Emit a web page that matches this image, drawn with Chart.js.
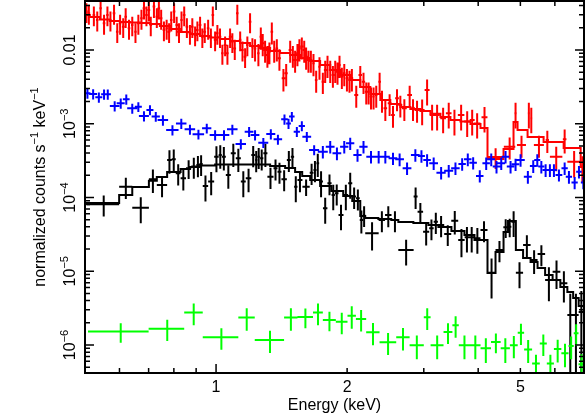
<!DOCTYPE html>
<html>
<head>
<meta charset="utf-8">
<script src="https://cdn.jsdelivr.net/npm/chart.js@4.4.1/dist/chart.umd.min.js"></script>
<style>
  html, body { margin: 0; padding: 0; background: #fff; }
</style>
</head>
<body>
<canvas id="spectrum" width="587" height="415"></canvas>
<script>
// axis ranges and labels
const xRange = [0.5, 7.0];
const yRange = [4.17e-7, 0.0461];
const xTicks = [1, 2, 5];
const xTickText = ['1', '2', '5'];
const yTicks = [1e-6, 1e-5, 1e-4, 1e-3, 1e-2];
const yTickText = ['10^\u22126', '10^\u22125', '10^\u22124', '10^\u22123', '0.01'];
const xTitle = 'Energy (keV)';
const yTitle = 'normalized counts s^\u22121 keV^\u22121';

// black spectrum: bin centre (keV), half width, value, error
const blackE = [0.552, 0.6205, 0.6715, 0.716, 0.7515, 0.7815, 0.7995, 0.8185, 0.841, 0.865, 0.889, 0.9085, 0.924, 0.9455, 0.9745, 1.002, 1.0225, 1.042, 1.067, 1.0955, 1.125, 1.155, 1.1875, 1.217, 1.2365, 1.253, 1.273, 1.298, 1.3335, 1.3695, 1.3985, 1.4335, 1.4695, 1.498, 1.5245, 1.5585, 1.61, 1.6575, 1.687, 1.7125, 1.7425, 1.781, 1.822, 1.8585, 1.893, 1.9365, 1.9865, 2.033, 2.0755, 2.117, 2.1565, 2.188, 2.282, 2.4035, 2.4865, 2.5755, 2.7325, 2.873, 2.946, 3.038, 3.124, 3.197, 3.2875, 3.4055, 3.534, 3.6615, 3.769, 3.865, 3.9825, 4.1255, 4.293, 4.4765, 4.6265, 4.7255, 4.8245, 4.977, 5.1745, 5.3765, 5.5875, 5.814, 6.053, 6.2935, 6.51, 6.7075, 6.9025];
const blackDE = [0.047, 0.0215, 0.0295, 0.015, 0.0205, 0.0095, 0.0085, 0.0105, 0.012, 0.012, 0.012, 0.0075, 0.008, 0.0135, 0.0155, 0.012, 0.0085, 0.011, 0.014, 0.0145, 0.015, 0.015, 0.0175, 0.012, 0.0075, 0.009, 0.011, 0.014, 0.0215, 0.0145, 0.0145, 0.0205, 0.0155, 0.013, 0.0135, 0.0205, 0.031, 0.0165, 0.013, 0.0125, 0.0175, 0.021, 0.02, 0.0165, 0.018, 0.0255, 0.0245, 0.022, 0.0205, 0.021, 0.0185, 0.013, 0.081, 0.0405, 0.0425, 0.0465, 0.1105, 0.03, 0.043, 0.049, 0.037, 0.036, 0.0545, 0.0635, 0.065, 0.0625, 0.045, 0.051, 0.0665, 0.0765, 0.091, 0.0925, 0.0575, 0.0415, 0.0575, 0.095, 0.1025, 0.0995, 0.1115, 0.115, 0.124, 0.1165, 0.10, 0.0975, 0.0975];
const blackY = [8.09e-5, 1.40e-4, 7.27e-5, 1.77e-4, 1.48e-4, 3.23e-4, 3.30e-4, 2.13e-4, 1.82e-4, 2.49e-4, 2.62e-4, 2.76e-4, 2.85e-4, 1.43e-4, 1.64e-4, 3.57e-4, 3.77e-4, 3.57e-4, 2.02e-4, 3.97e-4, 3.40e-4, 1.64e-4, 1.82e-4, 3.77e-4, 3.23e-4, 3.57e-4, 3.40e-4, 3.97e-4, 1.91e-4, 2.49e-4, 2.24e-4, 1.77e-4, 3.23e-4, 3.57e-4, 1.40e-4, 1.73e-4, 1.40e-4, 2.17e-4, 2.36e-4, 2.91e-4, 1.64e-4, 7.14e-5, 1.56e-4, 1.08e-4, 1.14e-4, 5.79e-5, 1.08e-4, 1.56e-4, 1.03e-4, 9.75e-5, 4.95e-5, 5.79e-5, 3.27e-5, 4.95e-5, 5.79e-5, 4.95e-5, 1.94e-5, 1.03e-4, 6.42e-5, 3.44e-5, 3.82e-5, 4.70e-5, 4.24e-5, 3.20e-5, 4.85e-5, 2.65e-5, 2.89e-5, 2.89e-5, 2.80e-5, 3.62e-5, 9.56e-6, 1.94e-5, 3.94e-5, 4.02e-5, 4.70e-5, 9.56e-6, 2.27e-5, 1.42e-5, 1.71e-5, 7.61e-6, 9.86e-6, 6.86e-6, 2.55e-6, 2.55e-6, 2.80e-6];
const blackDY = [2.57e-5, 4.45e-5, 2.79e-5, 6.2e-5, 4.7e-5, 1.13e-4, 1.16e-4, 6.8e-5, 5.8e-5, 7.1e-5, 8.3e-5, 8.8e-5, 9.0e-5, 5.5e-5, 5.7e-5, 1.37e-4, 1.32e-4, 1.25e-4, 7.1e-5, 1.39e-4, 1.19e-4, 6.3e-5, 6.4e-5, 1.2e-4, 1.03e-4, 1.13e-4, 1.08e-4, 1.39e-4, 6.1e-5, 7.9e-5, 7.1e-5, 5.6e-5, 1.02e-4, 1.13e-4, 5.4e-5, 5.5e-5, 3.5e-5, 6.9e-5, 7.5e-5, 1.02e-4, 6.3e-5, 2.74e-5, 4.9e-5, 4.1e-5, 3.6e-5, 2.2e-5, 4.1e-5, 6.0e-5, 3.3e-5, 3.1e-5, 1.7e-5, 1.8e-5, 1.36e-5, 1.57e-5, 1.84e-5, 1.57e-5, 7.4e-6, 3.3e-5, 2.0e-5, 1.2e-5, 1.2e-5, 1.5e-5, 1.35e-5, 1.0e-5, 1.7e-5, 1.1e-5, 1.1e-5, 1.1e-5, 1.07e-5, 1.15e-5, 5.3e-6, 6.2e-6, 1.12e-5, 1.14e-5, 1.8e-5, 3.7e-6, 8.0e-6, 5.0e-6, 5.4e-6, 3.7e-6, 4.1e-6, 3.1e-6, 2.4e-6, 2.4e-6, 2.6e-6];
// black model, bin edges and value per bin
const blackModelEdges = [0.500, 0.599, 0.642, 0.701, 0.731, 0.772, 0.829, 0.871, 0.919, 0.995, 1.136, 1.331, 1.441, 1.519, 1.577, 1.645, 1.734, 1.839, 1.959, 2.055, 2.144, 2.201, 2.359, 2.526, 2.622, 2.839, 3.074, 3.241, 3.472, 3.720, 3.922, 4.202, 4.384, 4.574, 4.684, 4.882, 5.072, 5.277, 5.476, 5.699, 5.929, 6.177, 6.410, 6.610, 6.805, 7.00];
const blackModel = [8.42e-5, 1.08e-4, 1.39e-4, 1.68e-4, 1.90e-4, 2.22e-4, 2.43e-4, 2.59e-4, 2.72e-4, 2.80e-4, 2.80e-4, 2.68e-4, 2.51e-4, 2.22e-4, 1.96e-4, 1.73e-4, 1.43e-4, 1.22e-4, 1.05e-4, 8.97e-5, 5.61e-5, 5.27e-5, 5.11e-5, 4.95e-5, 4.65e-5, 4.51e-5, 4.24e-5, 3.98e-5, 3.51e-5, 3.10e-5, 2.65e-5, 9.46e-6, 1.82e-5, 3.40e-5, 4.80e-5, 1.94e-5, 1.51e-5, 1.33e-5, 1.11e-5, 8.89e-6, 7.60e-6, 6.11e-6, 5.22e-6, 4.33e-6, 3.37e-6];

// red spectrum
const redE = [0.5037, 0.5103, 0.524, 0.5335, 0.543, 0.553, 0.563, 0.572, 0.583, 0.593, 0.602, 0.612, 0.620, 0.631, 0.642, 0.653, 0.663, 0.674, 0.683, 0.692, 0.701, 0.708, 0.720, 0.731, 0.739, 0.748, 0.759, 0.770, 0.780, 0.789, 0.801, 0.812, 0.822, 0.833, 0.845, 0.857, 0.871, 0.882, 0.895, 0.906, 0.919, 0.930, 0.942, 0.959, 0.973, 0.983, 0.995, 1.007, 1.021, 1.034, 1.049, 1.062, 1.077, 1.090, 1.104, 1.119, 1.136, 1.150, 1.166, 1.180, 1.197, 1.212,
  1.229, 1.251, 1.267, 1.280, 1.296, 1.312, 1.326, 1.343, 1.360, 1.379, 1.398, 1.428, 1.449, 1.480, 1.501, 1.519, 1.538, 1.554, 1.574, 1.594, 1.610, 1.630, 1.651, 1.674, 1.698, 1.728, 1.759, 1.781, 1.803, 1.829, 1.855, 1.878, 1.901, 1.921, 1.945, 1.970, 1.998, 2.025, 2.051,
  2.099, 2.144, 2.181, 2.213, 2.241, 2.269, 2.300, 2.333, 2.375, 2.405, 2.448, 2.504, 2.549, 2.604, 2.650, 2.707, 2.784, 2.834, 2.895,
  2.974, 3.053, 3.135, 3.219, 3.323, 3.423, 3.528, 3.655, 3.774, 3.875, 3.978, 4.136,
  4.386, 4.724, 4.874, 5.03, 5.229, 5.297, 5.516, 5.766, 6.044, 6.319, 6.644, 6.94];
const redDE = [0.0035, 0.0035, 0.0036, 0.0037, 0.0037, 0.0038, 0.0039, 0.0039, 0.004, 0.0041, 0.0042, 0.0042, 0.0043, 0.0044, 0.0044, 0.0045, 0.0046, 0.0047, 0.0047, 0.0048, 0.0048, 0.0049, 0.005, 0.005, 0.0051, 0.0052, 0.0052, 0.0053, 0.0054, 0.0054, 0.0055, 0.0056, 0.0057, 0.0057, 0.0058, 0.0059, 0.006, 0.0061, 0.0062, 0.0063, 0.0063, 0.0064, 0.0065, 0.0066, 0.0067, 0.0068, 0.0069, 0.0069, 0.007, 0.0071, 0.0072, 0.0073, 0.0074, 0.0075, 0.0076, 0.0077, 0.0078, 0.0079, 0.008, 0.0081, 0.0083, 0.0084,
  0.0085, 0.0086, 0.0087, 0.0088, 0.0089, 0.0091, 0.0091, 0.0093, 0.0094, 0.0095, 0.011, 0.013, 0.012, 0.012, 0.011, 0.0105, 0.0106, 0.0107, 0.0109, 0.011, 0.0111, 0.0112, 0.0114, 0.0115, 0.0117, 0.0119, 0.0121, 0.0123, 0.0124, 0.0126, 0.0128, 0.013, 0.0131, 0.0133, 0.0134, 0.0136, 0.0138, 0.014, 0.0142,
  0.022, 0.02, 0.019, 0.016, 0.014, 0.014, 0.015, 0.016, 0.017, 0.018, 0.023, 0.025, 0.025, 0.026, 0.027, 0.035, 0.035, 0.030, 0.038,
  0.039, 0.040, 0.041, 0.045, 0.05, 0.051, 0.055, 0.063, 0.06, 0.051, 0.07, 0.065,
  0.184, 0.143, 0.03, 0.12, 0.03, 0.03, 0.146, 0.05, 0.199, 0.06, 0.234, 0.06];
const redY = [0.0331, 0.0315, 0.0298, 0.0255, 0.0368, 0.0230, 0.0298, 0.0255, 0.0315, 0.0177, 0.0230, 0.0207, 0.0283, 0.0197, 0.0218, 0.0177, 0.0230, 0.0269, 0.0368, 0.0298, 0.0349, 0.0218, 0.0387, 0.0283, 0.0368, 0.0269, 0.0187, 0.0197, 0.0177, 0.0255, 0.0331, 0.0218, 0.0177, 0.0255, 0.0298, 0.0207, 0.0168, 0.0207, 0.0160, 0.0187, 0.0218, 0.0151, 0.0177, 0.0197, 0.0151, 0.0298, 0.0137, 0.0168, 0.0151, 0.00902, 0.0117, 0.00902, 0.0151, 0.0130, 0.0105, 0.0315, 0.0137, 0.0100, 0.00811, 0.0117, 0.0242, 0.0111,
  0.0105, 0.00902, 0.0151, 0.0123, 0.0100, 0.00855, 0.00948, 0.0177, 0.0100, 0.0105, 0.00772, 0.00413, 0.00483, 0.0100, 0.00855, 0.00732, 0.00902, 0.0105, 0.0111, 0.0100, 0.00811, 0.00732, 0.00732, 0.00660, 0.00392, 0.00594, 0.00372, 0.00536, 0.00626, 0.00536, 0.00458, 0.00536, 0.00508, 0.00626, 0.00435, 0.00483, 0.00413, 0.00392, 0.00413,
  0.00245, 0.00458, 0.00372, 0.00272, 0.00272, 0.00233, 0.00233, 0.00245, 0.00372, 0.00210, 0.00162, 0.00189, 0.00131, 0.00221, 0.00180, 0.00162, 0.00245, 0.00162, 0.00154,
  0.00154, 0.00287, 0.00131, 0.00131, 0.00119, 0.00139, 0.00112, 0.00131, 0.00107, 0.00112, 0.00101, 0.00122,
  0.000354, 0.000488, 0.00139, 0.000515, 0.00139, 0.00119, 0.000515, 0.000602, 0.000357, 0.000615, 0.000306, 0.000262];
const redDY = [0.0099, 0.0095, 0.0089, 0.0077, 0.011, 0.0069, 0.0089, 0.0077, 0.0095, 0.0053, 0.0069, 0.0062, 0.0085, 0.0059, 0.0065, 0.0053, 0.0069, 0.0081, 0.011, 0.0089, 0.0105, 0.0065, 0.0116, 0.0085, 0.011, 0.0081, 0.0056, 0.0059, 0.0053, 0.0077, 0.0099, 0.0065, 0.0053, 0.0077, 0.0089, 0.0062, 0.005, 0.0062, 0.0048, 0.0056, 0.0065, 0.0045, 0.0053, 0.0059, 0.0045, 0.0089, 0.0041, 0.005, 0.0045, 0.0027, 0.0035, 0.0027, 0.0045, 0.0039, 0.0032, 0.0095, 0.0041, 0.003, 0.0024, 0.0035, 0.0073, 0.0033,
  0.0035, 0.003, 0.005, 0.0041, 0.0033, 0.0028, 0.0031, 0.0058, 0.0033, 0.0035, 0.0025, 0.0014, 0.0016, 0.0033, 0.0028, 0.0024, 0.003, 0.0035, 0.0037, 0.0033, 0.0027, 0.0024, 0.0024, 0.0022, 0.0013, 0.002, 0.0012, 0.0018, 0.0021, 0.0018, 0.0015, 0.0018, 0.0017, 0.0021, 0.0014, 0.0016, 0.0014, 0.0013, 0.0014,
  0.00081, 0.0015, 0.0012, 0.0009, 0.0009, 0.00077, 0.00077, 0.00081, 0.0012, 0.00069, 0.00053, 0.00062, 0.00043, 0.00073, 0.00059, 0.00053, 0.00081, 0.00053, 0.00051,
  0.00059, 0.0011, 0.0005, 0.0005, 0.00045, 0.00053, 0.00043, 0.0005, 0.00041, 0.00043, 0.00038, 0.00046,
  0.00011, 0.00016, 0.00053, 0.00017, 0.00053, 0.00045, 0.00017, 0.0002, 0.00013, 0.00022, 0.00012, 0.0001];
const redModelEdges = [0.500, 0.513, 0.541, 0.570, 0.602, 0.634, 0.669, 0.705, 0.743, 0.784, 0.826, 0.871, 0.919, 0.969, 1.021, 1.077, 1.136, 1.197, 1.262, 1.331, 1.403, 1.480, 1.560, 1.645, 1.734, 1.829, 1.928, 2.033, 2.144, 2.261, 2.384, 2.513, 2.650, 2.794, 2.947, 3.107, 3.276, 3.454, 3.642, 3.840, 4.049, 4.202, 4.574, 4.822, 4.926, 5.194, 5.653, 6.286, 6.878, 7.00];
const redModel = [0.0298, 0.0280, 0.0259, 0.0247, 0.0240, 0.0236, 0.0232, 0.0225, 0.0212, 0.0193, 0.01754, 0.01648, 0.01548, 0.01477, 0.01410, 0.01324, 0.01244, 0.01133, 0.01064, 0.00969, 0.00911, 0.00855, 0.00779, 0.00709, 0.00626, 0.00536, 0.00458, 0.00392, 0.00315, 0.00253, 0.00210, 0.00185, 0.00169, 0.00158, 0.00149, 0.00136, 0.00123, 0.00112, 0.00107, 0.000992, 0.000876, 0.000333, 0.000455, 0.001056, 0.000823, 0.000661, 0.000565, 0.000469, 0.000259];

// blue spectrum (no model)
const blueE = [0.5065, 0.522, 0.538, 0.553, 0.564, 0.585, 0.604, 0.622, 0.642, 0.663, 0.683, 0.705, 0.727, 0.755, 0.794, 0.832, 0.871, 0.911, 0.952, 0.995, 1.043, 1.090, 1.140, 1.191, 1.229, 1.284, 1.336, 1.387, 1.436, 1.467, 1.493, 1.533, 1.574, 1.616, 1.680, 1.759, 1.829, 1.895, 1.970, 2.033, 2.113, 2.181, 2.269, 2.363, 2.448, 2.549, 2.640, 2.746, 2.869, 2.963, 3.053, 3.161, 3.288, 3.423, 3.547, 3.675, 3.786, 3.895, 4.034, 4.173, 4.286, 4.407, 4.519, 4.623, 4.747, 4.874, 5.005, 5.202, 5.352, 5.468, 5.586, 5.714, 5.845, 5.971, 6.131, 6.319, 6.464, 6.662, 6.816, 6.976];
const blueDE = [0.0081, 0.011, 0.010, 0.0084, 0.0094, 0.0148, 0.0128, 0.0111, 0.017, 0.0123, 0.0181, 0.0131, 0.0159, 0.021, 0.026, 0.0231, 0.0243, 0.0278, 0.0233, 0.0283, 0.0296, 0.0303, 0.0316, 0.0276, 0.0285, 0.034, 0.0319, 0.0313, 0.0248, 0.0185, 0.0218, 0.0254, 0.026, 0.0375, 0.0445, 0.0465, 0.0424, 0.0439, 0.043, 0.0444, 0.0461, 0.0476, 0.0555, 0.0563, 0.0583, 0.059, 0.0611, 0.0636, 0.0664, 0.0549, 0.0606, 0.0733, 0.0805, 0.0815, 0.0798, 0.0725, 0.075, 0.0775, 0.08, 0.0825, 0.085, 0.0875, 0.09, 0.0925, 0.094, 0.096, 0.1125, 0.11, 0.094, 0.0875, 0.0875, 0.09, 0.0925, 0.095, 0.11, 0.105, 0.1075, 0.11, 0.10, 0.0925];
const blueY = [2.59e-3, 2.53e-3, 2.28e-3, 2.51e-3, 2.51e-3, 1.74e-3, 1.89e-3, 2.15e-3, 1.62e-3, 1.70e-3, 1.27e-3, 1.54e-3, 1.25e-3, 1.12e-3, 8.23e-4, 1.01e-3, 8.41e-4, 7.19e-4, 8.68e-4, 7.04e-4, 7.04e-4, 8.41e-4, 5.31e-4, 7.80e-4, 7.04e-4, 5.53e-4, 7.26e-4, 6.15e-4, 1.15e-3, 1.01e-3, 1.25e-3, 7.80e-4, 9.32e-4, 6.67e-4, 4.41e-4, 4.18e-4, 4.88e-4, 3.97e-4, 4.88e-4, 5.43e-4, 3.77e-4, 4.88e-4, 3.57e-4, 3.57e-4, 3.57e-4, 3.40e-4, 3.30e-4, 2.49e-4, 3.77e-4, 3.65e-4, 3.23e-4, 2.91e-4, 2.17e-4, 2.31e-4, 2.49e-4, 2.85e-4, 3.30e-4, 2.96e-4, 1.96e-4, 2.91e-4, 3.30e-4, 2.62e-4, 2.91e-4, 3.57e-4, 2.62e-4, 2.82e-4, 3.23e-4, 1.91e-4, 2.67e-4, 3.23e-4, 2.62e-4, 2.36e-4, 2.36e-4, 2.36e-4, 2.02e-4, 2.49e-4, 1.91e-4, 1.59e-4, 2.24e-4, 1.59e-4];
const blueDY = [4.1e-4, 4.0e-4, 3.6e-4, 4.0e-4, 4.0e-4, 2.8e-4, 3.0e-4, 3.4e-4, 2.5e-4, 2.6e-4, 2.0e-4, 2.4e-4, 1.9e-4, 1.8e-4, 1.3e-4, 1.6e-4, 1.3e-4, 1.1e-4, 1.3e-4, 1.1e-4, 1.1e-4, 1.3e-4, 8.4e-5, 1.2e-4, 1.1e-4, 8.6e-5, 1.13e-4, 9.6e-5, 1.8e-4, 1.6e-4, 1.9e-4, 1.2e-4, 1.44e-4, 1.04e-4, 6.8e-5, 8.0e-5, 9.4e-5, 7.7e-5, 9.4e-5, 1.04e-4, 7.2e-5, 9.4e-5, 6.8e-5, 6.8e-5, 6.8e-5, 6.5e-5, 6.4e-5, 4.8e-5, 7.2e-5, 7.0e-5, 6.2e-5, 5.6e-5, 4.2e-5, 4.4e-5, 4.8e-5, 5.5e-5, 6.4e-5, 5.6e-5, 3.7e-5, 5.6e-5, 6.4e-5, 5.0e-5, 5.6e-5, 6.8e-5, 5.0e-5, 5.4e-5, 6.2e-5, 3.7e-5, 5.2e-5, 6.2e-5, 5.0e-5, 4.6e-5, 4.6e-5, 4.6e-5, 3.8e-5, 4.8e-5, 3.7e-5, 3.0e-5, 4.3e-5, 3.0e-5];

// green spectrum (no model)
const greenE = [0.604, 0.7725, 0.8885, 1.0285, 1.176, 1.33, 1.4855, 1.604, 1.7145, 1.8215, 1.944, 2.0495, 2.1535, 2.293, 2.4835, 2.688, 2.8915, 3.055, 3.22, 3.41, 3.55, 3.72, 3.94, 4.165, 4.3925, 4.6175, 4.83, 5.015, 5.21, 5.43, 5.645, 5.86, 6.09, 6.33, 6.54, 6.715, 6.91];
const greenDE = [0.096, 0.0725, 0.0435, 0.0965, 0.051, 0.103, 0.0525, 0.066, 0.0445, 0.0625, 0.06, 0.0455, 0.0585, 0.081, 0.1095, 0.095, 0.1085, 0.055, 0.11, 0.08, 0.06, 0.11, 0.11, 0.115, 0.1125, 0.1125, 0.10, 0.085, 0.11, 0.11, 0.105, 0.11, 0.12, 0.12, 0.09, 0.085, 0.11];
const greenY = [1.52e-6, 1.66e-6, 2.75e-6, 1.27e-6, 2.35e-6, 1.17e-6, 2.35e-6, 2.40e-6, 2.75e-6, 2.18e-6, 2.07e-6, 2.50e-6, 2.25e-6, 1.49e-6, 1.09e-6, 1.27e-6, 0.99e-6, 2.37e-6, 0.99e-6, 1.50e-6, 1.85e-6, 0.99e-6, 0.99e-6, 0.90e-6, 1.10e-6, 0.90e-6, 0.99e-6, 1.47e-6, 0.87e-6, 0.56e-6, 1.05e-6, 0.56e-6, 0.88e-6, 0.77e-6, 0.97e-6, 1.44e-6, 0.55e-6];
const greenDY = [0.45e-6, 0.53e-6, 0.90e-6, 0.41e-6, 0.79e-6, 0.39e-6, 0.79e-6, 0.72e-6, 0.90e-6, 0.65e-6, 0.67e-6, 0.84e-6, 0.73e-6, 0.50e-6, 0.36e-6, 0.43e-6, 0.35e-6, 0.77e-6, 0.35e-6, 0.47e-6, 0.60e-6, 0.35e-6, 0.35e-6, 0.33e-6, 0.33e-6, 0.33e-6, 0.33e-6, 0.47e-6, 0.30e-6, 0.18e-6, 0.34e-6, 0.18e-6, 0.30e-6, 0.27e-6, 0.33e-6, 0.47e-6, 0.20e-6];

const FONT = '"Liberation Sans", Arial, Helvetica, sans-serif';

// points carrying their error ranges
function crosses(E, dE, Y, dY) {
    return E.map((e, i) => ({
        x: e, y: Y[i],
        xlo: e - dE[i], xhi: e + dE[i],
        ylo: Y[i] - dY[i], yhi: Y[i] + dY[i]
    }));
}

// histogram model -> points for a stepped line
function steps(edges, vals) {
    const pts = vals.map((v, i) => ({ x: edges[i], y: v }));
    pts.push({ x: edges[edges.length - 1], y: vals[vals.length - 1] });
    return pts;
}

// "10^-3" -> [{t:'10'}, {t:'-3', sup:true}]
function parseSup(str) {
    const parts = [];
    const re = /\^(\S+)/g;
    let last = 0, m;
    while ((m = re.exec(str))) {
        if (m.index > last) parts.push({ t: str.slice(last, m.index) });
        parts.push({ t: m[1], sup: true });
        last = re.lastIndex;
    }
    if (last < str.length) parts.push({ t: str.slice(last) });
    return parts;
}

// draws text centred on (0,0) baseline, with superscripts
function drawRich(ctx, str, size) {
    const parts = parseSup(str);
    const supSize = Math.round(size * 0.7);
    let total = 0;
    parts.forEach(p => {
        ctx.font = (p.sup ? supSize : size) + 'px ' + FONT;
        p.w = ctx.measureText(p.t).width;
        total += p.w;
    });
    let x = -total / 2;
    ctx.textAlign = 'left';
    ctx.textBaseline = 'alphabetic';
    parts.forEach(p => {
        ctx.font = (p.sup ? supSize : size) + 'px ' + FONT;
        ctx.fillText(p.t, x, p.sup ? -Math.round(size * 0.45) : 0);
        x += p.w;
    });
}

const errorBars = {
    id: 'errorBars',
    afterDatasetDraw(chart, args) {
        const ds = chart.data.datasets[args.index];
        if (!ds.crosses) return;
        const { ctx, chartArea: a, scales: { x, y } } = chart;
        const floor = y.min * 0.01;
        ctx.save();
        ctx.beginPath();
        ctx.rect(a.left, a.top, a.right - a.left, a.bottom - a.top);
        ctx.clip();
        ctx.strokeStyle = ds.borderColor;
        ctx.lineWidth = ds.borderWidth;
        ctx.beginPath();
        ds.data.forEach(p => {
            const px = x.getPixelForValue(p.x);
            const py = y.getPixelForValue(p.y);
            ctx.moveTo(x.getPixelForValue(p.xlo), py);
            ctx.lineTo(x.getPixelForValue(p.xhi), py);
            ctx.moveTo(px, y.getPixelForValue(Math.max(p.ylo, floor)));
            ctx.lineTo(px, y.getPixelForValue(p.yhi));
        });
        ctx.stroke();
        ctx.restore();
    }
};

// box, inward ticks on all sides, labels and titles
const frame = {
    id: 'frame',
    afterDraw(chart) {
        const { ctx, chartArea: a, scales: { x, y } } = chart;
        ctx.save();
        ctx.strokeStyle = '#000';
        ctx.fillStyle = '#000';
        ctx.lineWidth = 1.5;
        ctx.beginPath();
        for (let d = -1; d <= 1; d++) {
            for (let m = 1; m <= 9; m++) {
                const v = m * Math.pow(10, d);
                if (v < x.min - 1e-9 || v > x.max + 1e-9) continue;
                const px = x.getPixelForValue(v);
                const len = m === 1 ? 9 : 5;
                ctx.moveTo(px, a.bottom); ctx.lineTo(px, a.bottom - len);
                ctx.moveTo(px, a.top); ctx.lineTo(px, a.top + len);
            }
        }
        for (let d = -7; d <= -1; d++) {
            for (let m = 1; m <= 9; m++) {
                const v = m * Math.pow(10, d);
                if (v < y.min || v > y.max) continue;
                const py = y.getPixelForValue(v);
                const len = m === 1 ? 9 : 5;
                ctx.moveTo(a.left, py); ctx.lineTo(a.left + len, py);
                ctx.moveTo(a.right, py); ctx.lineTo(a.right - len, py);
            }
        }
        ctx.stroke();
        ctx.lineWidth = 2;
        ctx.strokeRect(a.left, a.top, a.right - a.left, a.bottom - a.top);

        // x tick labels
        xTicks.forEach((v, i) => {
            ctx.save();
            ctx.translate(x.getPixelForValue(v), a.bottom + 18.5);
            drawRich(ctx, xTickText[i], 16);
            ctx.restore();
        });
        // y tick labels, rotated
        yTicks.forEach((v, i) => {
            ctx.save();
            ctx.translate(a.left - 10, y.getPixelForValue(v));
            ctx.rotate(-Math.PI / 2);
            drawRich(ctx, yTickText[i], 16);
            ctx.restore();
        });
        // titles
        ctx.save();
        ctx.translate((a.left + a.right) / 2, a.bottom + 37);
        drawRich(ctx, xTitle, 16);
        ctx.restore();
        ctx.save();
        ctx.translate(45, (a.top + a.bottom) / 2);
        ctx.rotate(-Math.PI / 2);
        drawRich(ctx, yTitle, 16);
        ctx.restore();
        ctx.restore();
    }
};

function dataSet(E, dE, Y, dY, color, order) {
    return {
        type: 'scatter', crosses: true,
        data: crosses(E, dE, Y, dY),
        borderColor: color, backgroundColor: color,
        borderWidth: 2, pointRadius: 0, showLine: false, order
    };
}
function modelSet(edges, vals, color, order) {
    return {
        type: 'line', data: steps(edges, vals),
        borderColor: color, borderWidth: 2, pointRadius: 0,
        stepped: true, fill: false, showLine: true, order
    };
}

new Chart(document.getElementById('spectrum'), {
    type: 'scatter',
    data: {
        datasets: [
            dataSet(blueE, blueDE, blueY, blueDY, '#0000ff', 0),
            dataSet(greenE, greenDE, greenY, greenDY, '#00ff00', 1),
            modelSet(redModelEdges, redModel, '#ff0000', 2),
            dataSet(redE, redDE, redY, redDY, '#ff0000', 3),
            modelSet(blackModelEdges, blackModel, '#000000', 4),
            dataSet(blackE, blackDE, blackY, blackDY, '#000000', 5)
        ]
    },
    options: {
        responsive: false,
        animation: false,
        devicePixelRatio: 1,
        layout: { padding: { left: 85, right: 3, top: 1, bottom: 42 } },
        plugins: { legend: { display: false }, tooltip: { enabled: false } },
        scales: {
            x: { type: 'logarithmic', min: xRange[0], max: xRange[1], display: false },
            y: { type: 'logarithmic', min: yRange[0], max: yRange[1], display: false }
        }
    },
    plugins: [errorBars, frame]
});
</script>
</body>
</html>
